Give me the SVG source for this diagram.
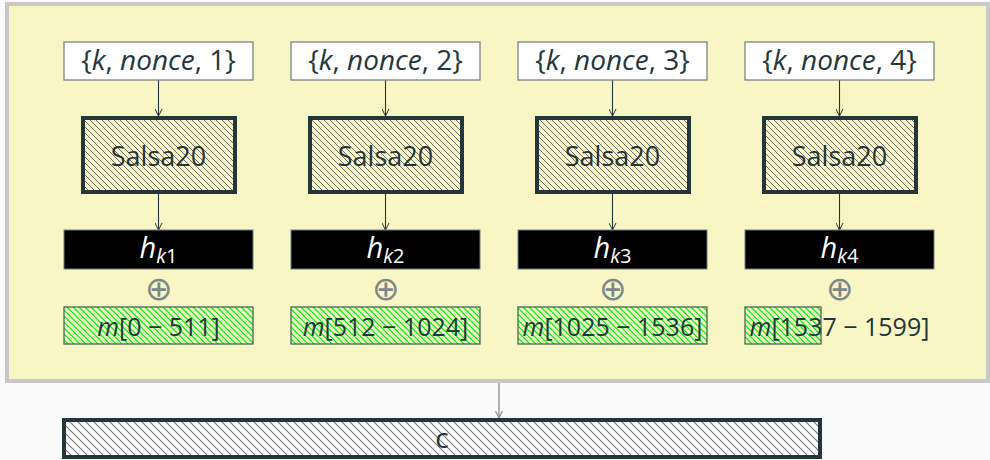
<svg xmlns="http://www.w3.org/2000/svg" width="990" height="460" viewBox="0 0 990 460">
<style>
  text { font-family: "Open Sans", "Noto Sans", "DejaVu Sans", sans-serif; fill: #23373b; text-anchor: middle; }
  .key { fill: #ffffff; stroke: #6e7b7d; stroke-width: 1.2; }
  .salsa { fill: url(#hatchGray); stroke: #23373b; stroke-width: 4; }
  .hk { fill: #000000; stroke: #6e7b7d; stroke-width: 1; }
  .msg { fill: url(#hatchGreen); stroke: #3d5a50; stroke-width: 1.2; }
  .edge { stroke: #23373b; stroke-width: 1.1; fill: none; marker-end: url(#arr); }
  .edge2 { stroke: #8a9399; stroke-width: 1.4; fill: none; marker-end: url(#arr2); }
  .it { font-style: italic; }
  .top { font-size: 28px; }
  .lbl { font-size: 25px; }
  .big { font-size: 27px; }
  .ox { font-family: "DejaVu Sans", sans-serif; font-weight: 200; font-size: 33px; fill: #7d888b; }
</style>
<defs>
  <pattern id="hatchGray" patternUnits="userSpaceOnUse" width="6" height="6">
    <rect width="6" height="6" fill="#f9f6c4"/>
    <path d="M-1,-1 L7,7 M-1,5 L1,7 M5,-1 L7,1" stroke="#6b6b6b" stroke-width="1"/>
  </pattern>
  <pattern id="hatchGreen" patternUnits="userSpaceOnUse" width="6" height="6">
    <rect width="6" height="6" fill="#e6f8c0"/>
    <path d="M-1,-1 L7,7 M-1,5 L1,7 M5,-1 L7,1" stroke="#1ad81a" stroke-width="1.2"/>
  </pattern>
  <pattern id="hatchC" patternUnits="userSpaceOnUse" width="8" height="8">
    <rect width="8" height="8" fill="#ffffff"/>
    <path d="M-1,-1 L9,9 M-1,7 L1,9 M7,-1 L9,1" stroke="#777777" stroke-width="1.1"/>
  </pattern>
  <marker id="arr" markerWidth="10" markerHeight="8" refX="8" refY="4" orient="auto" markerUnits="userSpaceOnUse">
    <path d="M1,0.5 L8,4 L1,7.5" fill="none" stroke="#23373b" stroke-width="1"/>
  </marker>
  <marker id="arr2" markerWidth="10" markerHeight="8" refX="8" refY="4" orient="auto" markerUnits="userSpaceOnUse">
    <path d="M1,0.5 L8,4 L1,7.5" fill="none" stroke="#8a9399" stroke-width="1.2"/>
  </marker>
</defs>
<rect x="0" y="0" width="990" height="460" fill="#fafafa"/>
<g id="container">
  <rect x="7" y="4" width="981" height="377" fill="#f9f6c6" stroke="#c8c8c8" stroke-width="4"/>
</g>
<g id="connectors">
  <line class="edge" x1="158.5" y1="80" x2="158.5" y2="116"/>
  <line class="edge" x1="385.5" y1="80" x2="385.5" y2="116"/>
  <line class="edge" x1="612.5" y1="80" x2="612.5" y2="116"/>
  <line class="edge" x1="839.5" y1="80" x2="839.5" y2="116"/>
  <line class="edge" x1="158.5" y1="194" x2="158.5" y2="230"/>
  <line class="edge" x1="385.5" y1="194" x2="385.5" y2="230"/>
  <line class="edge" x1="612.5" y1="194" x2="612.5" y2="230"/>
  <line class="edge" x1="839.5" y1="194" x2="839.5" y2="230"/>
  <line class="edge2" x1="499" y1="383" x2="499" y2="418"/>
</g>
<g id="key1"><rect class="key" x="64" y="42" width="189" height="38"/><text class="top" x="158.5" y="70">{<tspan class="it">k</tspan>, <tspan class="it">nonce</tspan>, 1}</text></g>
<g id="key2"><rect class="key" x="291" y="42" width="189" height="38"/><text class="top" x="385.5" y="70">{<tspan class="it">k</tspan>, <tspan class="it">nonce</tspan>, 2}</text></g>
<g id="key3"><rect class="key" x="518" y="42" width="189" height="38"/><text class="top" x="612.5" y="70">{<tspan class="it">k</tspan>, <tspan class="it">nonce</tspan>, 3}</text></g>
<g id="key4"><rect class="key" x="745" y="42" width="189" height="38"/><text class="top" x="839.5" y="70">{<tspan class="it">k</tspan>, <tspan class="it">nonce</tspan>, 4}</text></g>

<g id="salsa1"><rect class="salsa" x="83" y="118" width="152" height="74"/><text class="big" x="158.5" y="166">Salsa20</text></g>
<g id="salsa2"><rect class="salsa" x="310" y="118" width="152" height="74"/><text class="big" x="385.5" y="166">Salsa20</text></g>
<g id="salsa3"><rect class="salsa" x="537" y="118" width="152" height="74"/><text class="big" x="612.5" y="166">Salsa20</text></g>
<g id="salsa4"><rect class="salsa" x="764" y="118" width="152" height="74"/><text class="big" x="839.5" y="166">Salsa20</text></g>

<g id="hk1"><rect class="hk" x="64" y="230" width="189" height="39"/><text x="158.5" y="258" style="fill:#ffffff"><tspan class="it" font-size="29">h</tspan><tspan font-size="20" dy="5"><tspan class="it">k</tspan>1</tspan></text></g>
<g id="hk2"><rect class="hk" x="291" y="230" width="189" height="39"/><text x="385.5" y="258" style="fill:#ffffff"><tspan class="it" font-size="29">h</tspan><tspan font-size="20" dy="5"><tspan class="it">k</tspan>2</tspan></text></g>
<g id="hk3"><rect class="hk" x="518" y="230" width="189" height="39"/><text x="612.5" y="258" style="fill:#ffffff"><tspan class="it" font-size="29">h</tspan><tspan font-size="20" dy="5"><tspan class="it">k</tspan>3</tspan></text></g>
<g id="hk4"><rect class="hk" x="745" y="230" width="189" height="39"/><text x="839.5" y="258" style="fill:#ffffff"><tspan class="it" font-size="29">h</tspan><tspan font-size="20" dy="5"><tspan class="it">k</tspan>4</tspan></text></g>

<g id="xor1"><text class="ox" x="158.5" y="300">⊕</text></g>
<g id="xor2"><text class="ox" x="385.5" y="300">⊕</text></g>
<g id="xor3"><text class="ox" x="612.5" y="300">⊕</text></g>
<g id="xor4"><text class="ox" x="839.5" y="300">⊕</text></g>

<g id="m1"><rect class="msg" x="64" y="307" width="189" height="37"/><text class="lbl" x="158.5" y="336"><tspan class="it">m</tspan>[0 − 511]</text></g>
<g id="m2"><rect class="msg" x="291" y="307" width="189" height="37"/><text class="lbl" x="385.5" y="336"><tspan class="it">m</tspan>[512 − 1024]</text></g>
<g id="m3"><rect class="msg" x="518" y="307" width="189" height="37"/><text class="lbl" x="612.5" y="336"><tspan class="it">m</tspan>[1025 − 1536]</text></g>
<g id="m4"><rect class="msg" x="745" y="307" width="76" height="37"/><text class="lbl" x="839.5" y="336"><tspan class="it">m</tspan>[1537 − 1599]</text></g>

<g id="c"><rect x="64" y="420" width="756" height="37" fill="url(#hatchC)" stroke="#23373b" stroke-width="4"/><text x="442" y="448" font-size="28">c</text></g>
</svg>
